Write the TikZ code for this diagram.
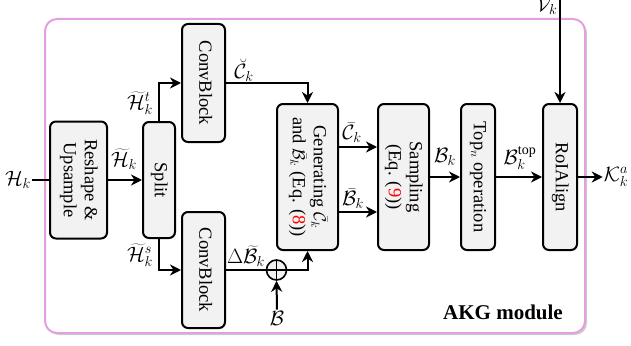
\documentclass[tikz,border=0pt]{standalone}
\usepackage{fontspec}
\setmainfont{Liberation Serif}
\usepackage{graphicx}
\usetikzlibrary{arrows.meta,shadows}
\definecolor{akgpink}{RGB}{228,160,222}

\begin{document}
\begin{tikzpicture}[x={(1pt,0pt)},y={(0pt,-1pt)},font=\fontsize{18.5}{21}\selectfont]

	% INPUTS:
	\newcommand{\rowy}{180};		% height of the main row
	\newcommand{\genh}{146};		% height of the tall blocks

	% styles
	\tikzstyle{block}=[draw,line width=2pt,rounded corners=6pt,fill=gray!10,inner sep=0pt];
	\tikzstyle{link}=[line width=2pt,-{Stealth[length=11pt,width=11pt,inset=3.5pt]}];
	\tikzstyle{tag}=[inner sep=1pt,font=\fontsize{20}{22}\selectfont];

	% text written downwards inside a block
	\newcommand{\vtext}[1]{\rotatebox{-90}{\begin{tabular}{@{}c@{}}#1\end{tabular}}}

	\useasboundingbox (0,0) rectangle (631,345);

	% outer frame of the module
	\draw[akgpink,line width=2pt,rounded corners=12pt,fill=white,drop shadow={shadow xshift=2pt,shadow yshift=-2pt,opacity=0.4}] (45,19) rectangle (585,333);
	\node[font=\fontsize{21}{24}\selectfont\bfseries] (akgname) at (503,312) {AKG module};

	% blocks
	\node[block,minimum width=57,minimum height=117] (reshape) at (78.5,\rowy) {\vtext{Reshape \&\\Upsample}};
	\node[block,minimum width=32,minimum height=116] (split) at (159,\rowy) {\vtext{Split}};
	\node[block,minimum width=43,minimum height=118] (convt) at (203.5,83) {\vtext{ConvBlock}};
	\node[block,minimum width=43,minimum height=116] (convs) at (203.5,270) {\vtext{ConvBlock}};
	\node[block,minimum width=61,minimum height=\genh] (gen) at (307.5,177) {\vtext{Generating $\bar{\mathcal{C}}_k$\\and $\bar{\mathcal{B}}_k$ (Eq. (\textcolor{red}{8}))}};
	\node[block,minimum width=51,minimum height=\genh] (samp) at (403.5,177) {\vtext{Sampling\\(Eq. (\textcolor{red}{9}))}};
	\node[block,minimum width=34,minimum height=\genh] (topn) at (478,177) {\vtext{Top$_n$ operation}};
	\node[block,minimum width=34,minimum height=\genh] (roi) at (560,177) {\vtext{RoIAlign}};

	% the sum with the boxes
	\node[circle,draw,line width=1.6pt,fill=gray!10,minimum size=20,inner sep=0pt,
		path picture={\draw[line width=1.6pt] (path picture bounding box.north) -- (path picture bounding box.south)
			(path picture bounding box.west) -- (path picture bounding box.east);}] (plus) at (276.5,270) {};

	% inputs and outputs
	\node[tag] (hin) at (18,\rowy) {$\mathcal{H}_k$};
	\node[tag] (bin) at (277,318) {$\mathcal{B}$};
	\node[tag] (vin) at (547,6) {$\mathcal{V}_k$};
	\coordinate (vtop) at (560,-5);
	\node[tag] (kout) at (616,177) {$\mathcal{K}_k^a$};

	% connectors
	\draw[line width=2pt] (hin.east) -- (reshape.west);
	\draw[link] (reshape.east) -- (split.west);
	\draw[link] (split.north) |- (convt.west);
	\draw[link] (split.south) |- (convs.west);
	\draw[link] (convt.east) -| (gen.north);
	\draw[line width=2pt] (convs.east) -- (plus.west);
	\draw[link] (plus.east) -| (gen.south);
	\draw[link] (bin.north) -- (plus.south);
	\draw[link] ([yshift=30pt]gen.east) -- ([yshift=30pt]samp.west);
	\draw[link] ([yshift=-35pt]gen.east) -- ([yshift=-35pt]samp.west);
	\draw[link] (samp.east) -- (topn.west);
	\draw[link] (topn.east) -- (roi.west);
	\draw[link] (vtop) -- (roi.north);
	\draw[link] (roi.east) -- (kout.west);

	% labels on the connectors
	\node[tag] (hfeat) at (124,159) {$\widetilde{\mathcal{H}}_k$};
	\node[tag] (hfeatt) at (140,103) {$\widetilde{\mathcal{H}}_k^t$};
	\node[tag] (hfeats) at (140,255) {$\widetilde{\mathcal{H}}_k^s$};
	\node[tag] (cbreve) at (244,70) {$\breve{\mathcal{C}}_k$};
	\node[tag] (dbox) at (246,256) {$\Delta\widetilde{\mathcal{B}}_k$};
	\node[tag] (cbar) at (352,133) {$\bar{\mathcal{C}}_k$};
	\node[tag] (bbar) at (353,199) {$\bar{\mathcal{B}}_k$};
	\node[tag] (bk) at (445,157) {$\mathcal{B}_k$};
	\node[tag] (bktop) at (520,158) {$\mathcal{B}_k^{\mathrm{top}}$};

\end{tikzpicture}
\end{document}
